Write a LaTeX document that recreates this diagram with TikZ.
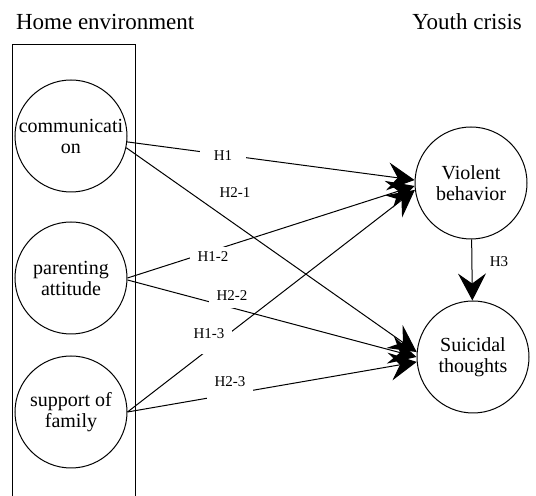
\documentclass[tikz,border=0pt]{standalone}
\usepackage{fontspec}
\setmainfont{Liberation Serif}
\usetikzlibrary{arrows.meta}

\begin{document}
\begin{tikzpicture}[x=0.5pt, y=-0.5pt,
		every node/.style={font=\fontsize{10}{10.5}\selectfont},
		factor/.style={draw, circle, line width=0.5pt, minimum size=56pt, inner sep=0pt, align=center},
		hyp/.style={-{Stealth[length=13.5pt, width=14pt, inset=5pt]}, line width=0.5pt},
		hlabel/.style={fill=white, font=\fontsize{7.5}{8}\selectfont, minimum width=23pt, minimum height=10pt, inner sep=1pt},
	]
		\useasboundingbox (0,0) rectangle (536,496);
		% group titles
		\node[anchor=west, font=\fontsize{11.5}{12}\selectfont] (home) at (9,22) {Home environment};
		\node[anchor=east, font=\fontsize{11.5}{12}\selectfont] (youth) at (529,22) {Youth crisis};
		% frame round the home factors
		\draw[line width=0.5pt] (12.5,500) |- (135.5,45) -- (135.5,500);
		% factors
		\node[factor] (comm) at (71,136) {communicati\\on};
		\node[factor] (par) at (71,278) {parenting\\attitude};
		\node[factor] (sup) at (71,412) {support of\\family};
		\node[factor] (viol) at (471,183) {Violent\\behavior};
		\node[factor] (sui) at (473,357) {Suicidal\\thoughts};
		% hypotheses
		\draw[hyp] (comm.-6) -- (viol.177);
		\draw[hyp] (comm.-12) -- (sui.175);
		\draw[hyp] (par.east) -- (viol.183);
		\draw[hyp] (par.-2) -- (sui.180);
		\draw[hyp] (sup.east) -- (viol.187);
		\draw[hyp] (sup.east) -- (sui.185);
		\draw[hyp] (viol) -- (sui);
		% labels
		\node[hlabel] (h1) at (223,156) {H1};
		\node[hlabel] (h21) at (235,193) {H2-1};
		\node[hlabel] (h12) at (213,257) {H1-2};
		\node[hlabel, minimum height=12pt] (h22) at (232,296) {H2-2};
		\node[hlabel, minimum height=20pt] (h13) at (209,334) {H1-3};
		\node[hlabel, minimum height=18pt] (h23) at (230,382) {H2-3};
		\node[font=\fontsize{7.5}{8}\selectfont] (h3) at (499,262) {H3};
	\end{tikzpicture}
\end{document}
